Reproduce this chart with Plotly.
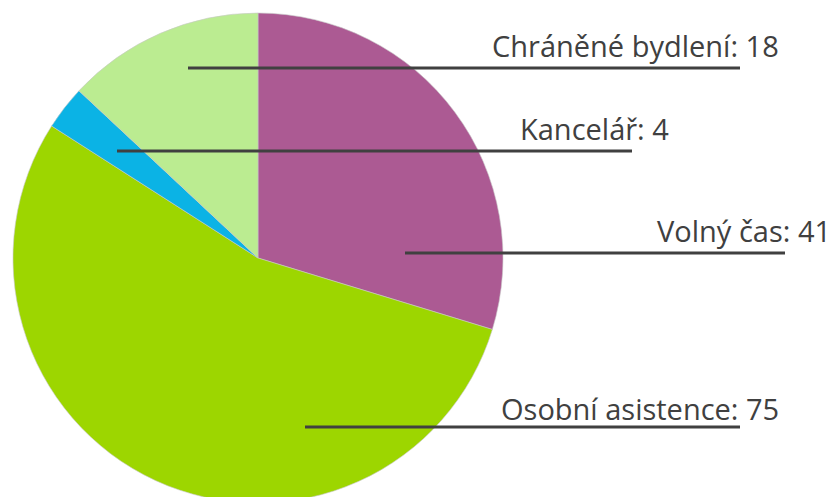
import plotly.graph_objects as go

categories = ["Volný čas", "Osobní asistence", "Kancelář", "Chráněné bydlení"]
values = [41, 75, 4, 18]
colors = ["#AC5A93", "#9DD600", "#0BB3E5", "#BBEC91"]

W, H = 834, 516

# label layout (pixels): text right edge, text centre y, line x0, line x1, line y
label_layout = {
    "Chráněné bydlení": (781, 45, 188, 740, 68),
    "Kancelář": (671, 128, 117, 632, 151),
    "Volný čas": (833, 230, 405, 785, 253),
    "Osobní asistence": (781, 408, 305, 740, 427),
}

def px(x):
    return x / W

def py(y):
    return 1 - y / H

fig = go.Figure(go.Pie(
    labels=categories,
    values=values,
    sort=False,
    direction="clockwise",
    rotation=0,
    marker=dict(colors=colors, line=dict(color="#c8c8c8", width=0.6)),
    textinfo="none",
    hoverinfo="label+value",
    domain=dict(x=[13 / W, 503 / W], y=[0, 1]),
    showlegend=False,
))

shapes = []
annotations = []
for cat, val in zip(categories, values):
    tx, ty, lx0, lx1, ly = label_layout[cat]
    shapes.append(dict(type="line", xref="paper", yref="paper",
                       x0=px(lx0), x1=px(lx1), y0=py(ly), y1=py(ly),
                       line=dict(color="#404040", width=3)))
    annotations.append(dict(text=f"{cat}: {val}", xref="paper", yref="paper",
                            x=px(tx), y=py(ty), xanchor="right", yanchor="middle",
                            showarrow=False,
                            font=dict(family="Open Sans", size=29, color="#404040")))

fig.update_layout(
    width=W, height=H,
    margin=dict(l=0, r=0, t=0, b=0),
    paper_bgcolor="white", plot_bgcolor="white",
    shapes=shapes, annotations=annotations,
)

fig.write_html("out.html", post_script="document.body.style.overflow='hidden';document.documentElement.style.overflow='hidden';document.body.style.margin='0';")
